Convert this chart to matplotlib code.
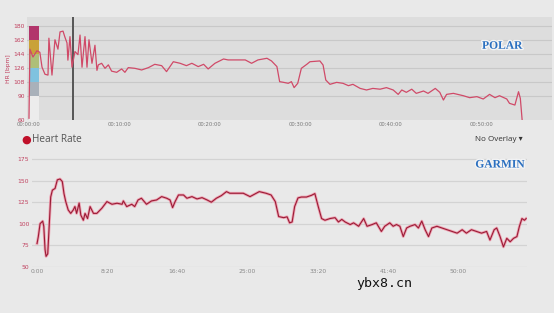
import matplotlib
matplotlib.use("Agg")
import matplotlib.pyplot as plt
import matplotlib.patheffects as pe

# ---------------- data ----------------
polar_t = [0.0, 0.1, 0.44, 0.88, 1.2, 1.44, 1.77, 2.1, 2.2, 2.54, 2.87, 3.2, 3.43, 3.76, 3.98,
           4.2, 4.3, 4.53, 4.75, 5.08, 5.41, 5.64, 5.86, 6.19, 6.41, 6.63, 6.96, 7.29, 7.51,
           7.66, 8.03, 8.4, 8.77, 9.13, 9.69, 10.24, 10.6, 10.97, 11.7, 12.45, 13.2, 13.9,
           14.66, 15.2, 15.95, 16.7, 17.4, 18.0, 18.7, 19.3, 19.8, 20.55, 21.5, 22.0, 23.1,
           23.9, 24.6, 25.3, 26.3, 26.8, 27.4, 27.7, 28.1, 28.65, 29.0, 29.3, 29.7, 30.1,
           30.7, 31.05, 32.15, 32.5, 32.8, 33.26, 34.0, 34.7, 35.3, 35.8, 36.6, 37.3, 38.0,
           38.8, 39.5, 40.25, 40.8, 41.2, 41.7, 42.3, 42.8, 43.6, 44.1, 44.9, 45.4, 45.8,
           46.15, 46.9, 48.0, 48.7, 49.5, 50.2, 50.9, 51.5, 52.0, 52.8, 53.1, 53.7, 54.1,
           54.3, 54.5]
polar_hr = [62, 150, 140, 148, 146, 127, 118, 117, 164, 117, 162, 150, 172, 173, 165,
            158, 136, 166, 127, 147, 143, 168, 127, 166, 127, 162, 132, 155, 123,
            130, 132, 125.6, 130, 122, 120.5, 124.8, 120.5, 126.5, 125.6, 123.5, 126.5, 130.7,
            129, 121.4, 134, 132, 129, 132, 127.8, 130.7, 124.8, 132, 137.5, 136.3, 136.3,
            136.3, 132, 136.3, 138.4, 135, 127.8, 108.6, 107.8, 106.5, 108.6, 101, 106.5, 125.6,
            130.7, 134, 135, 129.8, 110.7, 105.2, 107.7, 106.5, 103.5, 105.2, 100, 98, 100,
            99, 101, 98, 92.4, 98, 95, 99, 93.7, 96.7, 93.7, 100, 95, 85.2,
            92.4, 93.7, 90.7, 88.2, 89.5, 86.5, 92.4, 88.2, 90.7, 86.5, 81, 78.8, 95.8,
            87.3, 59.7]

garmin_t = [0.0, 0.15, 0.36, 0.67, 0.8, 0.95, 1.07, 1.27, 1.46, 1.62, 1.82, 2.14, 2.41, 2.73,
            3.0, 3.2, 3.4, 3.7, 4.0, 4.3, 4.5, 4.7, 5.0, 5.2, 5.5, 5.7, 6.0, 6.3, 6.7,
            7.1, 7.7, 8.3, 8.9, 9.5, 10.1, 10.25, 10.65, 11.25, 11.6, 12.0, 12.4, 13.0, 13.6,
            14.2, 14.8, 15.4, 15.8, 16.1, 16.4, 16.8, 17.4, 17.8, 18.4, 19.0, 19.6, 20.2,
            20.7, 21.3, 21.9, 22.5, 22.9, 23.7, 24.5, 25.3, 25.8, 26.4, 27.2, 27.8, 28.3,
            28.7, 29.3, 29.7, 30.0, 30.3, 30.6, 31.0, 31.4,
            32.0, 32.6, 33.0, 33.4, 33.8, 34.2, 34.8, 35.4, 35.8, 36.2, 36.6, 37.2, 37.6,
            38.2, 38.8, 39.2, 39.8, 40.3, 40.9, 41.3, 41.9, 42.3, 42.7, 43.1, 43.5, 43.9,
            44.3, 44.9, 45.3, 45.7, 46.1, 46.5, 46.9, 47.5, 48.1, 48.7, 49.3, 49.9, 50.5,
            51.0, 51.6, 52.2, 52.8, 53.4, 53.8, 54.3, 54.6, 55.0, 55.4, 55.8, 56.2, 56.6,
            57.0, 57.3, 57.6, 57.9, 58.1]
garmin_hr = [77, 85, 100, 103, 97, 70, 62, 65, 100, 131, 139, 141, 151, 152,
             149, 135, 126, 116, 112, 116, 120, 112, 124, 110, 104, 112, 106, 119.9, 112,
             112, 118, 125.7, 122.6, 123.8, 122.6, 126.5, 119.9, 122.6, 119.9, 127.6, 129.6,
             122.6, 126.5, 127.6, 131.5, 129.6, 127.6, 118.7, 125.7, 133.4, 133.4, 129.6,
             131.5, 128.8, 130.3, 127.6, 125, 129.6, 132.7, 137.3, 135.4, 135.4, 135.4, 131.5,
             134.2, 137.3, 135.4, 133.4, 125.7, 108.3, 107, 108, 101, 102, 120, 130, 131,
             131, 133, 135, 120, 106, 104, 106, 107, 102, 105, 102, 99, 101,
             97, 106, 97, 99, 101, 91, 97, 101, 97, 99, 97, 85, 95,
             97, 99, 95, 103, 93, 85, 95, 97, 95, 93, 91, 89, 93,
             89, 93, 91, 89, 91, 81, 93, 95, 85, 73, 83, 79, 83,
             85, 97, 106, 104, 106]

polar_yticks = [60, 90, 108, 126, 144, 162, 180]
polar_xticks = [0, 10, 20, 30, 40, 50]
polar_xlabels = ["00:00:00", "00:10:00", "00:20:00", "00:30:00", "00:40:00", "00:50:00"]
zone_edges = [90, 108, 126, 144, 162, 180]
zone_colors = ["#a9b1ba", "#7fc2df", "#aebf78", "#c9a238", "#b2356b"]
marker_t = 4.86

garmin_yticks = [50, 75, 100, 125, 150, 175]
garmin_xticks = [0, 25 / 3, 50 / 3, 25, 100 / 3, 125 / 3, 50]
garmin_xlabels = ["0:00", "8:20", "16:40", "25:00", "33:20", "41:40", "50:00"]

# ---------------- figure ----------------
W, H = 554, 313
fig = plt.figure(figsize=(W / 100, H / 100), dpi=100, facecolor="#e9e9e9")


def frac(x0, y0, x1, y1):
    return [x0 / W, 1 - y1 / H, (x1 - x0) / W, (y1 - y0) / H]


# ---- Polar ----
ax1 = fig.add_axes(frac(27, 17, 552, 119.8))
ax1.set_facecolor("#dddddd")
ax1.set_xlim(-0.22, 57.8)
ax1.set_ylim(60, 191)
for y in polar_yticks[1:]:
    ax1.axhline(y, color="#c8c8c8", lw=0.8, zorder=1)
for i in range(len(zone_colors)):
    ax1.fill_between([0, 1.1], zone_edges[i], zone_edges[i + 1], color=zone_colors[i],
                     lw=0, zorder=2)
ax1.fill_between([0, 1.1], 60, 90, color="#ececec", lw=0, zorder=2)
ax1.axvline(marker_t, color="#555555", lw=1.4, zorder=3)
ax1.plot(polar_t, polar_hr, color="#d04a68", lw=0.9, zorder=4)
for s in ax1.spines.values():
    s.set_visible(False)
ax1.set_yticks(polar_yticks)
ax1.set_yticklabels([str(v) for v in polar_yticks], fontsize=4.3, color="#c0405e")
ax1.set_xticks(polar_xticks)
ax1.set_xticklabels(polar_xlabels, fontsize=3.8, color="#777777")
ax1.tick_params(length=0, pad=1.5)
ax1.set_ylabel("HR [bpm]", fontsize=4.3, color="#c0405e", labelpad=2)
ax1.text(0.905, 0.72, "POLAR", transform=ax1.transAxes, ha="center", va="center",
         family="Liberation Serif", weight="bold", fontsize=8.3, color="#2a6fc0",
         path_effects=[pe.withStroke(linewidth=2, foreground="#f4f4f4")])

# ---- legend row ----
fig.text(26 / W, 1 - 140 / H, "\u25CF", fontsize=8, color="#c0102a", ha="center", va="center")
fig.text(32 / W, 1 - 139.5 / H, "Heart Rate", fontsize=7.2, color="#555555", ha="left",
         va="center", family="Open Sans")
fig.text(523 / W, 1 - 139.5 / H, "No Overlay \u25BE", fontsize=5.8, color="#333333", ha="right",
         va="center", family=["Open Sans", "DejaVu Sans"])

# ---- Garmin ----
ax2 = fig.add_axes(frac(32, 150.6, 527, 266.7))
ax2.set_facecolor("none")
ax2.set_xlim(-0.6, 58.2)
ax2.set_ylim(50, 185)
for y in garmin_yticks:
    ax2.axhline(y, color="#d3d3d3", lw=0.9, zorder=1)
ax2.plot(garmin_t, garmin_hr, color="#f08aa0", lw=2.0, alpha=0.75, zorder=3,
         solid_joinstyle="round")
ax2.plot(garmin_t, garmin_hr, color="#9a1c36", lw=0.8, zorder=4)
for s in ax2.spines.values():
    s.set_visible(False)
ax2.set_yticks(garmin_yticks)
ax2.set_yticklabels([str(v) for v in garmin_yticks], fontsize=4.3, color="#c0405e")
ax2.set_xticks(garmin_xticks)
ax2.set_xticklabels(garmin_xlabels, fontsize=4.3, color="#888888")
ax2.tick_params(length=0, pad=2)
ax2.text(0.945, 0.88, "GARMIN", transform=ax2.transAxes, ha="center", va="center",
         family="Liberation Serif", weight="bold", fontsize=8.3, color="#2a6fc0",
         path_effects=[pe.withStroke(linewidth=2, foreground="#f4f4f4")])

# watermark
fig.text(384 / W, 1 - 283 / H, "ybx8.cn", fontsize=9.5, color="#111111", ha="center",
         va="center", family="DejaVu Sans Mono")

fig.savefig("out.png", dpi=100, facecolor=fig.get_facecolor())
